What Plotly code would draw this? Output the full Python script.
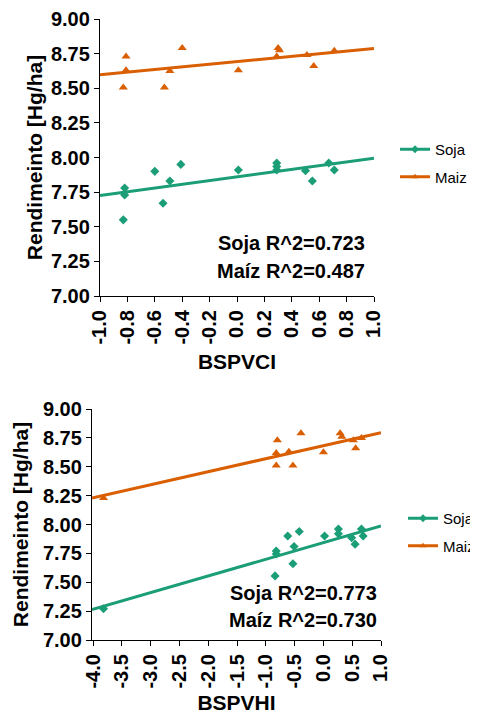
import plotly.graph_objects as go

# ---- data: top panel (BSPVCI) ----
ci_soja_x = [-0.83, -0.82, -0.82, -0.60, -0.54, -0.49, -0.41, 0.01, 0.29, 0.29, 0.29, 0.50, 0.55, 0.67, 0.71]
ci_soja_y = [7.55, 7.78, 7.73, 7.90, 7.67, 7.83, 7.95, 7.91, 7.96, 7.935, 7.91, 7.905, 7.83, 7.96, 7.91]
ci_maiz_x = [-0.81, -0.83, -0.81, -0.53, -0.49, -0.40, 0.01, 0.30, 0.31, 0.29, 0.51, 0.56, 0.71]
ci_maiz_y = [8.73, 8.505, 8.63, 8.505, 8.625, 8.79, 8.63, 8.79, 8.775, 8.73, 8.74, 8.66, 8.77]
ci_fit_x = [-1.0, 1.0]
ci_soja_fit = [7.725, 7.995]
ci_maiz_fit = [8.597, 8.787]

# ---- data: bottom panel (BSPVHI) ----
hi_soja_x = [-3.82, -0.82, -0.82, -0.84, -0.62, -0.42, -0.51, -0.53, 0.02, 0.26, 0.26, 0.49, 0.55, 0.66, 0.69]
hi_soja_y = [7.27, 7.77, 7.745, 7.555, 7.90, 7.94, 7.81, 7.66, 7.90, 7.96, 7.92, 7.885, 7.83, 7.96, 7.90]
hi_maiz_x = [-3.82, -0.80, -0.39, -0.82, -0.60, -0.82, -0.53, 0.00, 0.29, 0.32, 0.56, 0.52, 0.66]
hi_maiz_y = [8.23, 8.73, 8.79, 8.62, 8.63, 8.51, 8.51, 8.625, 8.79, 8.76, 8.66, 8.73, 8.75]
hi_fit_x = [-4.02, 1.0]
hi_soja_fit = [7.264, 7.987]
hi_maiz_fit = [8.23, 8.795]

y_ticks = [7.00, 7.25, 7.50, 7.75, 8.00, 8.25, 8.50, 8.75, 9.00]
ci_ticks = [-1.0, -0.8, -0.6, -0.4, -0.2, 0.0, 0.2, 0.4, 0.6, 0.8, 1.0]
hi_ticks = [-4.0, -3.5, -3.0, -2.5, -2.0, -1.5, -1.0, -0.5, 0.0, 0.5, 1.0]
r2_ci = ["Soja R^2=0.723", "Maíz R^2=0.487"]
r2_hi = ["Soja R^2=0.773", "Maíz R^2=0.730"]

GREEN = "#1b9e77"
ORANGE = "#d95f02"
OFF = 8                      # page body margin
W, H = 478 - OFF, 714 - OFF
FONT = "Liberation Sans, Arial, sans-serif"


def xp(px):
    return (px - OFF) / W


def yp(py):
    return 1 - (py - OFF) / H


fig = go.Figure()


def add_panel(xa, ya, leg, sx, sy, mx, my, fx, sfit, mfit):
    fig.add_trace(go.Scatter(x=sx, y=sy, mode="markers", xaxis=xa, yaxis=ya,
                             marker=dict(symbol="diamond", size=7, color=GREEN),
                             showlegend=False))
    fig.add_trace(go.Scatter(x=mx, y=my, mode="markers", xaxis=xa, yaxis=ya,
                             marker=dict(symbol="triangle-up", size=8, color=ORANGE),
                             showlegend=False))
    fig.add_trace(go.Scatter(x=fx, y=sfit, mode="lines", xaxis=xa, yaxis=ya,
                             line=dict(color=GREEN, width=3), showlegend=False))
    fig.add_trace(go.Scatter(x=fx, y=mfit, mode="lines", xaxis=xa, yaxis=ya,
                             line=dict(color=ORANGE, width=3), showlegend=False))
    fig.add_trace(go.Scatter(x=[None], y=[None], mode="lines+markers", xaxis=xa, yaxis=ya,
                             line=dict(color=GREEN, width=3),
                             marker=dict(symbol="diamond", size=6, color=GREEN),
                             name="Soja", legend=leg, legendgroup=leg + "s"))
    fig.add_trace(go.Scatter(x=[None], y=[None], mode="lines+markers", xaxis=xa, yaxis=ya,
                             line=dict(color=ORANGE, width=3),
                             marker=dict(symbol="triangle-up", size=6, color=ORANGE),
                             name="Maiz", legend=leg, legendgroup=leg + "m"))


add_panel("x", "y", "legend", ci_soja_x, ci_soja_y, ci_maiz_x, ci_maiz_y,
          ci_fit_x, ci_soja_fit, ci_maiz_fit)
add_panel("x2", "y2", "legend2", hi_soja_x, hi_soja_y, hi_maiz_x, hi_maiz_y,
          hi_fit_x, hi_soja_fit, hi_maiz_fit)

tickfont = dict(family=FONT, size=20, color="black", weight="bold")
titlefont = dict(family=FONT, size=21, color="black", weight="bold")

common_axis = dict(showline=True, linecolor="black", linewidth=1.3, ticks="outside",
                   ticklen=5, tickcolor="black", showgrid=False, zeroline=False,
                   tickfont=tickfont, automargin=False)

legfont = dict(family=FONT, size=15, color="black")

fig.update_layout(
    width=W, height=H, margin=dict(l=0, r=0, t=0, b=0, autoexpand=False),
    paper_bgcolor="white", plot_bgcolor="white",
    xaxis=dict(domain=[xp(100), xp(374)], anchor="y", range=[-1.0, 1.0],
               tickvals=ci_ticks, ticktext=[f"{v:.1f}" for v in ci_ticks],
               tickangle=-90, title=dict(text="BSPVCI", font=titlefont, standoff=10),
               **common_axis),
    yaxis=dict(domain=[yp(296), yp(19)], anchor="x", range=[7.0, 9.0],
               tickvals=y_ticks, ticktext=[f"{v:.2f}" for v in y_ticks],
               title=dict(text="Rendimeinto [Hg/ha]", font=titlefont, standoff=2),
               **common_axis),
    xaxis2=dict(domain=[xp(92), xp(381)], anchor="y2", range=[-4.02, 1.0],
                tickvals=hi_ticks, ticktext=[f"{v:.1f}" for v in hi_ticks],
                tickangle=-90, title=dict(text="BSPVHI", font=titlefont, standoff=12),
                **common_axis),
    yaxis2=dict(domain=[yp(640), yp(409)], anchor="x2", range=[7.0, 9.0],
                tickvals=y_ticks, ticktext=[f"{v:.2f}" for v in y_ticks],
                title=dict(text="Rendimeinto [Hg/ha]", font=titlefont, standoff=8),
                **common_axis),
    legend=dict(x=xp(395), y=yp(133), xanchor="left", yanchor="top",
                bgcolor="rgba(0,0,0,0)", font=legfont, tracegroupgap=5, itemwidth=30),
    legend2=dict(x=xp(403), y=yp(502), xanchor="left", yanchor="top",
                 bgcolor="rgba(0,0,0,0)", font=legfont, tracegroupgap=5, itemwidth=30),
)

annot_font = dict(family=FONT, size=20, color="black", weight="bold")
for txt, ypix in zip(r2_ci, [243, 271]):
    fig.add_annotation(text=txt, x=xp(367), y=yp(ypix), xref="paper", yref="paper",
                       xanchor="right", yanchor="middle", showarrow=False, font=annot_font)
for txt, ypix in zip(r2_hi, [593, 620]):
    fig.add_annotation(text=txt, x=xp(379), y=yp(ypix), xref="paper", yref="paper",
                       xanchor="right", yanchor="middle", showarrow=False, font=annot_font)

fig.write_html("out.html")
